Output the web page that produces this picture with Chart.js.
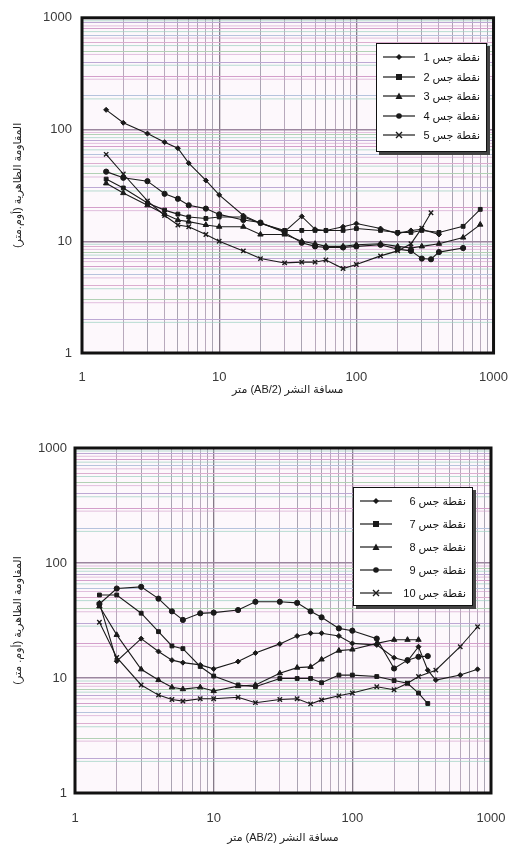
<!DOCTYPE html>
<html><head><meta charset="utf-8">
<script src="https://cdn.jsdelivr.net/npm/chart.js@4.4.1/dist/chart.umd.min.js"></script>
<style>
html,body{margin:0;padding:0;background:#fff;}
body{width:525px;height:850px;position:relative;overflow:hidden;font-family:"Liberation Sans","DejaVu Sans",sans-serif;}
.wrap{position:absolute;left:0;width:525px;}
#w1{top:0;height:420px;}
#w2{top:420px;height:430px;}
canvas{direction:rtl;}
.legend{position:absolute;background:#fff;border:1.5px solid #111;box-shadow:3px 3px 0 #444;box-sizing:border-box;}
.row{position:absolute;left:0;right:0;height:14px;}
.row svg{position:absolute;left:5px;top:2px;}
.row span{position:absolute;right:6px;top:0;direction:rtl;font-size:11px;line-height:14px;color:#111;white-space:nowrap;}
</style></head>
<body>
<div class="wrap" id="w1"><canvas id="c1" width="525" height="420"></canvas></div>
<div class="wrap" id="w2"><canvas id="c2" width="525" height="430"></canvas></div>
<div class="legend" id="lg1" style="left:376px;top:43px;width:111px;height:109px;"></div>
<div class="legend" id="lg2" style="left:353px;top:487px;width:120px;height:119px;"></div>
<script>
// ---------- data ----------
const majorTicks = [1, 10, 100, 1000];
const minorSteps = [2, 3, 4, 5, 6, 7, 8, 9];

const abTop = [1.5, 2, 3, 4, 5, 6, 8, 10, 15, 20, 30, 40, 50, 60, 80, 100, 150, 200, 250, 300, 350, 400, 600, 800];
const ves1 = [150, 115, 92, 77, 68, 50, 35, 26, 17, 14.5, 12.2, 16.7, 12.8, 12.5, 13.5, 14.4, 13, 11.7, 12.5, 12.8, null, 11.5, null, null];
const ves2 = [36, 30, 22, 19, 17.5, 16.5, 16, 16.5, 16.5, 14.5, 12.5, 12.5, 12.5, 12.5, 12.5, 13, 12.5, 12, 12, 12.5, null, 12, 13.6, 19.3];
const ves3 = [33, 27, 21, 17.5, 15.5, 15, 14, 13.5, 13.5, 11.5, 11.5, 10, 9.5, 9, 9, 9.3, 9.5, 9, 8.7, 9, null, 9.5, 10.8, 14.1];
const ves4 = [42, 37, 34.5, 26.6, 24, 21, 19.6, 17.4, 15.5, 14.7, 12, 9.7, 9, 8.8, 8.8, 9, 9.3, 8.5, 8.2, 7, 6.9, 8, 8.7, null];
const ves5 = [60, 40, 23, 17, 14, 13.5, 11.5, 10, 8.2, 7, 6.4, 6.5, 6.5, 6.8, 5.7, 6.2, 7.4, 8.2, 9.5, 13.1, 18, null, null, null];

const abBottom = [1.5, 2, 3, 4, 5, 6, 8, 10, 15, 20, 30, 40, 50, 60, 80, 100, 150, 200, 250, 300, 350, 400, 600, 800];
const ves6 = [45, 14, 22, 17, 14.3, 13.6, 13, 12, 13.9, 16.5, 19.8, 23.2, 24.5, 24.5, 23.2, 20, 19.4, 15, 14, 18.7, 11.7, 9.6, 10.6, 11.9];
const ves7 = [52.7, 52.7, 36.6, 25.3, 19, 18, 12.6, 10.4, 8.7, 8.4, 9.9, 9.9, 9.9, 9.1, 10.6, 10.6, 10.3, 9.5, 9, 7.4, 6.0, null, null, null];
const ves8 = [42, 23.7, 11.9, 9.6, 8.3, 8.0, 8.3, 7.7, 8.5, 8.7, 11, 12.3, 12.5, 14.5, 17.3, 17.7, 20, 21.5, 21.5, 21.5, null, null, null, null];
const ves9 = [44, 60, 62, 49, 38, 32, 36.5, 37, 39, 46, 46, 45, 38, 33.7, 27, 25.8, 22, 12.1, 14.3, 15.3, 15.5, null, null, null];
const ves10 = [30.5, 15.1, 8.7, 7.1, 6.5, 6.3, 6.6, 6.6, 6.8, 6.1, 6.5, 6.6, 5.95, 6.45, 7.0, 7.4, 8.4, 7.9, 9, 10.3, null, 11.7, 18.7, 27.9];

const labelsTop = ['نقطة جس 1', 'نقطة جس 2', 'نقطة جس 3', 'نقطة جس 4', 'نقطة جس 5'];
const labelsBottom = ['نقطة جس 6', 'نقطة جس 7', 'نقطة جس 8', 'نقطة جس 9', 'نقطة جس 10'];
const markerStyles = ['rectRot', 'rect', 'triangle', 'circle', 'crossRot'];
const markerRadii = [2.5, 2.7, 3.1, 2.6, 3.1];

const xTitle = 'مسافة النشر (AB/2) متر';
const yTitleTop = 'المقاومة الظاهرية (أوم.متر)';
const yTitleBottom = 'المقاومة الظاهرية (أوم. متر)';

// ---------- helpers ----------
const gridValues = [];
majorTicks.forEach((m, i) => {
  gridValues.push(m);
  if (i < majorTicks.length - 1) minorSteps.forEach(s => gridValues.push(m * s));
});
const FONT = '"Liberation Sans","DejaVu Sans",sans-serif';
const INK = '#1a1a1a';

function makeDatasets(ab, seriesList, labels) {
  return seriesList.map((s, k) => ({
    label: labels[k],
    data: ab.map((x, i) => ({ x: x, y: s[i] })).filter(p => p.y !== null),
    borderColor: INK,
    backgroundColor: INK,
    borderWidth: 1.1,
    pointStyle: markerStyles[k],
    pointRadius: markerRadii[k],
    pointBorderWidth: markerStyles[k] === 'crossRot' ? 1.4 : 1,
    pointBorderColor: INK,
    pointBackgroundColor: INK,
    tension: 0,
    fill: false
  }));
}

const hColors = ['#d49fcb', '#bda8d4', '#b2d1b5', '#dcaed0', '#b6c3dd'];
const paperPlugin = {
  id: 'paper',
  beforeDraw(chart) {
    const { ctx, chartArea: a } = chart;
    ctx.save();
    ctx.fillStyle = '#fdf8fc';
    ctx.fillRect(a.left, a.top, a.right - a.left, a.bottom - a.top);
    ctx.restore();
  },
  beforeDatasetsDraw(chart) {
    const { ctx, chartArea: a, scales: { y } } = chart;
    ctx.save();
    ctx.lineWidth = 1;
    y.ticks.forEach((t, i) => {
      const py = y.getPixelForValue(t.value) + 3;
      if (py > a.bottom - 2 || py < a.top + 2) return;
      ctx.strokeStyle = i % 2 ? 'rgba(160,210,195,0.75)' : 'rgba(210,160,205,0.65)';
      ctx.beginPath(); ctx.moveTo(a.left, py); ctx.lineTo(a.right, py); ctx.stroke();
    });
    ctx.restore();
  },
  afterDraw(chart) {
    const { ctx, chartArea: a } = chart;
    ctx.save();
    ctx.strokeStyle = '#111';
    ctx.lineWidth = 3;
    ctx.strokeRect(a.left, a.top, a.right - a.left, a.bottom - a.top);
    ctx.restore();
  }
};

function makeChart(canvasId, ab, seriesList, labels, geo, yTitle) {
  return new Chart(document.getElementById(canvasId), {
    type: 'line',
    data: { datasets: makeDatasets(ab, seriesList, labels) },
    options: {
      responsive: false,
      animation: false,
      devicePixelRatio: 1,
      layout: { padding: { top: geo.top, right: geo.right, left: 0, bottom: 0 } },
      plugins: { legend: { display: false }, tooltip: { enabled: false } },
      scales: {
        x: {
          type: 'logarithmic', min: 1, max: 1000,
          afterBuildTicks: s => { s.ticks = gridValues.map(v => ({ value: v, major: majorTicks.includes(v) })); },
          afterFit: s => { s.height = geo.xh; },
          ticks: {
            autoSkip: false, maxRotation: 0, padding: geo.xpad,
            color: '#3a3a3a', font: { family: FONT, size: 13 },
            callback: v => majorTicks.includes(v) ? String(v) : ''
          },
          grid: {
            drawTicks: false,
            color: c => majorTicks.includes(c.tick && c.tick.value) ? '#857a88' : (c.index % 2 ? '#b8a9bc' : '#aaa4b2'),
            lineWidth: c => majorTicks.includes(c.tick && c.tick.value) ? 1.3 : 1
          },
          border: { display: false },
          title: {
            display: true, text: xTitle, color: '#222',
            font: { family: FONT, size: 11 }, padding: { top: 0, bottom: geo.xtp }
          }
        },
        y: {
          type: 'logarithmic', min: 1, max: 1000,
          afterBuildTicks: s => { s.ticks = gridValues.map(v => ({ value: v, major: majorTicks.includes(v) })); },
          afterFit: s => { s.width = geo.yw; },
          ticks: {
            autoSkip: false, padding: geo.ypad,
            color: '#3a3a3a', font: { family: FONT, size: 13 },
            callback: v => majorTicks.includes(v) ? String(v) : ''
          },
          grid: {
            drawTicks: false,
            color: c => majorTicks.includes(c.tick && c.tick.value) ? '#9c869f' : hColors[c.index % hColors.length],
            lineWidth: c => majorTicks.includes(c.tick && c.tick.value) ? 1.4 : 1.1
          },
          border: { display: false },
          title: {
            display: true, text: yTitle, color: '#222',
            font: { family: FONT, size: 11 }, padding: { top: geo.ytp, bottom: 0 }
          }
        }
      }
    },
    plugins: [paperPlugin]
  });
}

makeChart('c1', abTop, [ves1, ves2, ves3, ves4, ves5], labelsTop,
  { top: 15, right: 17, xh: 67, yw: 82, xpad: 17, ypad: 10, xtp: 23, ytp: 11 }, yTitleTop);
makeChart('c2', abBottom, [ves6, ves7, ves8, ves9, ves10], labelsBottom,
  { top: 28, right: 34, xh: 57, yw: 75, xpad: 18, ypad: 8, xtp: 5, ytp: 11 }, yTitleBottom);

// ---------- legends ----------
function markerSvg(style) {
  let m = '';
  const cx = 17, cy = 5;
  if (style === 'rectRot') m = `<polygon points="${cx},${cy-3} ${cx+3},${cy} ${cx},${cy+3} ${cx-3},${cy}" fill="${INK}"/>`;
  else if (style === 'rect') m = `<rect x="${cx-3}" y="${cy-3}" width="6" height="6" fill="${INK}"/>`;
  else if (style === 'triangle') m = `<polygon points="${cx},${cy-3.5} ${cx+3.5},${cy+3} ${cx-3.5},${cy+3}" fill="${INK}"/>`;
  else if (style === 'circle') m = `<circle cx="${cx}" cy="${cy}" r="2.8" fill="${INK}"/>`;
  else m = `<path d="M${cx-3} ${cy-3} L${cx+3} ${cy+3} M${cx+3} ${cy-3} L${cx-3} ${cy+3}" stroke="${INK}" stroke-width="1.4"/>`;
  return `<svg width="34" height="10" viewBox="0 0 34 10"><line x1="1" y1="5" x2="33" y2="5" stroke="${INK}" stroke-width="1.2"/>${m}</svg>`;
}
function buildLegend(id, labels, firstTop, step) {
  const box = document.getElementById(id);
  labels.forEach((t, i) => {
    const r = document.createElement('div');
    r.className = 'row';
    r.style.top = (firstTop + i * step) + 'px';
    r.innerHTML = markerSvg(markerStyles[i]) + `<span>${t}</span>`;
    box.appendChild(r);
  });
}
buildLegend('lg1', labelsTop, 6, 19.5);
buildLegend('lg2', labelsBottom, 6, 23);
</script>
</body></html>
